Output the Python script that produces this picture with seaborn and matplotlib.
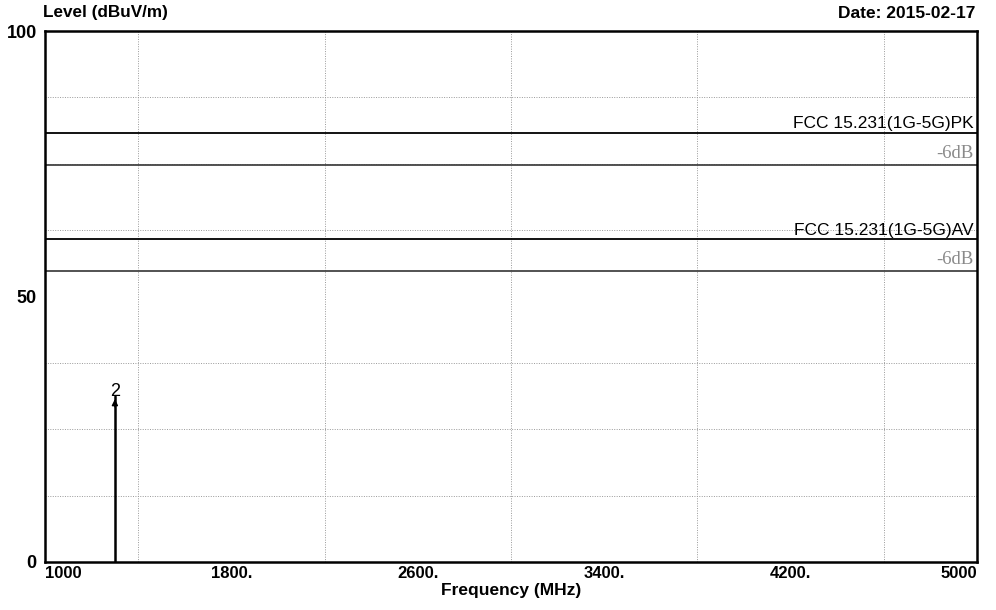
import matplotlib
matplotlib.use("Agg")
import matplotlib.pyplot as plt
import seaborn as sns
import pandas as pd

# ---- data ----
x_range = [1000, 5000]
limit_names = ["FCC 15.231(1G-5G)PK", "-6dB", "FCC 15.231(1G-5G)AV", "-6dB "]
limit_levels = [80.8, 74.8, 60.8, 54.8]
limit_colors = ["#000000", "#444444", "#000000", "#444444"]
marker_freq = [1300]
marker_level = [31.2]
marker_labels = ["2"]
x_ticks = [1000, 1800, 2600, 3400, 4200, 5000]
x_ticklabels = ["1000", "1800.", "2600.", "3400.", "4200.", "5000"]
y_ticks = [0, 50, 100]

sns.set_theme(style="white")
plt.rcParams["font.family"] = ["Liberation Sans", "DejaVu Sans"]
plt.rcParams["text.color"] = "black"
plt.rcParams["xtick.color"] = "black"
plt.rcParams["ytick.color"] = "black"
plt.rcParams["axes.labelcolor"] = "black"

fig = plt.figure(figsize=(9.96, 6.10), dpi=100)
ax = fig.add_axes([45/996, 48/610, 932/996, 531/610])

rows = []
for n, lv in zip(limit_names, limit_levels):
    for xv in x_range:
        rows.append({"freq": xv, "level": lv, "name": n})
df = pd.DataFrame(rows)
sns.lineplot(data=df, x="freq", y="level", hue="name", hue_order=limit_names,
             palette=dict(zip(limit_names, limit_colors)), legend=False, ax=ax,
             linewidth=1.3, estimator=None)

# marker
mdf = pd.DataFrame({"freq": [marker_freq[0], marker_freq[0]], "level": [0, marker_level[0]]})
sns.lineplot(data=mdf, x="freq", y="level", color="black", linewidth=1.8, ax=ax,
             legend=False, estimator=None, sort=False)
for f, l, t in zip(marker_freq, marker_level, marker_labels):
    ax.annotate("", xy=(f, l), xytext=(f, l - 2.5),
                arrowprops=dict(arrowstyle="-|>", color="black", lw=1.0, mutation_scale=9))
    ax.text(f, l - 0.6, t, ha="center", va="bottom", fontsize=13, color="black")

# limit labels
for n, lv, c in zip(limit_names, limit_levels, limit_colors):
    if n.strip() == "-6dB":
        ax.text(4985, lv + 0.6, n.strip(), ha="right", va="bottom", fontsize=13.5,
                color="#8a8a8a", family=["Liberation Serif", "DejaVu Serif"])
    else:
        ax.text(4985, lv + 0.3, n, ha="right", va="bottom", fontsize=12.5, color="black")

ax.set_xlim(1000, 5000)
ax.set_ylim(0, 100)
ax.set_xticks([1000 + 400 * i for i in range(11)], minor=True)
ax.set_yticks([12.5 * i for i in range(9)], minor=True)
ax.grid(True, which="minor", color="#999999", linestyle=(0, (1, 1.5)), linewidth=0.7)
ax.set_xticks(x_ticks)
ax.set_xticklabels(x_ticklabels, fontsize=12, fontweight="bold")
ax.set_yticks(y_ticks)
ax.set_yticklabels([str(v) for v in y_ticks], fontsize=13, fontweight="bold")
ax.tick_params(axis="both", which="both", length=0, pad=3)
ax.tick_params(axis="y", pad=6)
labels = ax.get_xticklabels()
labels[0].set_ha("left")
labels[-1].set_ha("right")
ax.set_xlabel("Frequency (MHz)", fontsize=12.5, fontweight="bold", labelpad=1)
ax.set_ylabel("")
for s in ax.spines.values():
    s.set_color("black")
    s.set_linewidth(1.8)

fig.text(43/996, 1 - 12/610, "Level (dBuV/m)", fontsize=12.3, fontweight="bold", va="center", ha="left")
fig.text(975/996, 1 - 13/610, "Date: 2015-02-17", fontsize=12.5, fontweight="bold", va="center", ha="right")

fig.savefig("out.png", dpi=100, facecolor="white")
